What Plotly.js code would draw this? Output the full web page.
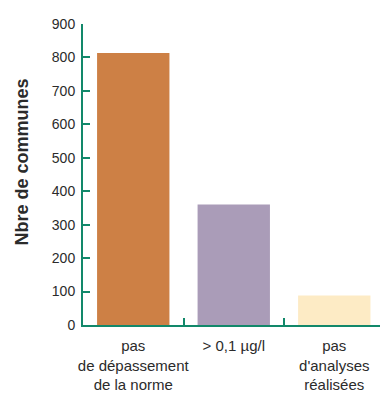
<!DOCTYPE html>
<html><head><meta charset="utf-8">
<script src="https://cdn.plot.ly/plotly-3.0.1.min.js"></script>
<style>body{margin:0;padding:0;background:#fff}#c{width:380px;height:403px}</style>
</head><body><div id="c"></div>
<script>
const categories = ["pas<br>de dépassement<br>de la norme", "> 0,1 µg/l", "pas<br>d'analyses<br>réalisées"];
const values = [813, 360, 88];
const colors = ["#CD8045", "#AA9CB8", "#FDEBC5"];
const yTicks = [0,100,200,300,400,500,600,700,800,900];
const yTitle = "Nbre de communes";

const axisColor = "#12886A";
const fam = "Liberation Sans Narrow, Arial Narrow, Liberation Sans, Arial, sans-serif";

Plotly.newPlot("c", [{
  type: "bar",
  x: categories,
  y: values,
  width: 0.72,
  marker: {color: colors, line: {width: 0}},
  hoverinfo: "none"
}], {
  width: 380, height: 403,
  margin: {l: 83, r: 0, t: 24, b: 78},
  paper_bgcolor: "#fff", plot_bgcolor: "#fff",
  font: {family: fam, size: 15, color: "#2b2b2b"},
  showlegend: false,
  xaxis: {
    type: "category",
    range: [-0.5, 2.455],
    showline: true, linecolor: axisColor, linewidth: 2,
    ticks: "inside", tickson: "boundaries", ticklen: 7, tickwidth: 2, tickcolor: axisColor,
    showgrid: false, zeroline: false,
    tickangle: 0,
    tickfont: {family: fam, size: 15, color: "#2b2b2b"},
    ticklabelstandoff: 6,
    fixedrange: true
  },
  yaxis: {
    range: [0, 900],
    tickvals: yTicks,
    ticktext: yTicks.map(String),
    showline: true, linecolor: axisColor, linewidth: 2,
    ticks: "inside", ticklen: 7, tickwidth: 2, tickcolor: axisColor,
    showgrid: false, zeroline: false,
    tickfont: {family: fam, size: 14, color: "#2b2b2b"},
    ticklabelstandoff: 3,
    fixedrange: true
  },
  annotations: [{
    text: "<b>" + yTitle + "</b>",
    textangle: -90,
    xref: "paper", yref: "paper",
    x: -0.205, y: 0.54,
    xanchor: "center", yanchor: "middle",
    showarrow: false,
    font: {family: "Liberation Sans, Arial, sans-serif", size: 18, color: "#2b2b2b"}
  }]
}, {displayModeBar: false, staticPlot: true});
</script></body></html>
